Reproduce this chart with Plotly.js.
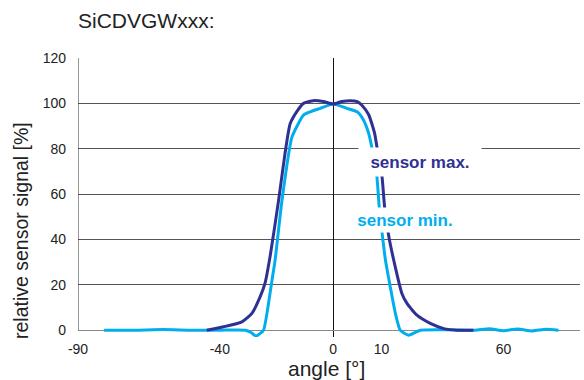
<!DOCTYPE html>
<html>
<head>
<meta charset="utf-8">
<script src="https://cdn.plot.ly/plotly-3.0.1.min.js"></script>
<style>html,body{margin:0;padding:0;background:#fff}#chart{width:584px;height:380px}</style>
</head>
<body>
<div id="chart"></div>
<script>
// sensor max. (dark blue)
const maxAngle = [-44.6, -38.7, -32.2, -28.7, -25.8, -24, -22.2, -19.3, -17, -15.2, -12.5, -10.5, -7, -3.5, 0, 3, 6, 8.5, 10.1, 12.5, 14.6, 16, 17.2, 18.1, 19.5, 21.3, 24.2, 26, 29.5, 34.2, 39, 43.7, 49.4];
const maxSignal = [0, 1.5, 3.7, 7.4, 14.7, 21, 33, 57, 78, 91, 97, 100, 101.2, 100.8, 99.7, 100.8, 101.2, 100.8, 99.2, 95, 86.7, 76, 67.6, 54.4, 42, 31, 16.2, 11.8, 6.6, 3, 0.7, 0, 0];
// sensor min. (light blue)
const minAngle = [-80.8, -70, -60, -50, -40, -31, -29, -27.2, -24.6, -23.2, -21.6, -20.5, -18.1, -14.6, -10.5, -8.1, -4.6, 0, 4.8, 8.4, 10.5, 12.5, 14, 15.4, 16.2, 17.2, 18.4, 20.1, 21.9, 23.6, 26.6, 30.7, 40, 50, 55, 60, 65, 70, 75, 79.4];
const minSignal = [0, 0, 0.3, 0, 0, 0, -1, -2.6, 0, 8.8, 22, 30.9, 57, 85, 94.8, 96.3, 97.8, 99.7, 97.8, 96.3, 93, 86.7, 78, 67.6, 54.4, 43, 30.9, 19.1, 7.4, 0, -2.2, 0, 0.2, 0, 0.6, -0.2, 0.5, -0.3, 0.4, 0];
// axis ticks
const xTickVals = [-90, -40, 0, 17, 60];
const xTickText = ['-90', '-40', '0', '10', '60'];
const yTickVals = [0, 20, 40, 60, 80, 100, 120];

const darkBlue = '#2e3192';
const lightBlue = '#00aeef';
const font = 'Liberation Sans, Arial, sans-serif';

const traces = [
  {x: minAngle, y: minSignal, mode: 'lines', line: {color: lightBlue, width: 3, shape: 'spline', smoothing: 0.5}, hoverinfo: 'skip'},
  {x: maxAngle, y: maxSignal, mode: 'lines', line: {color: darkBlue, width: 3, shape: 'spline', smoothing: 0.5}, hoverinfo: 'skip'}
];

const layout = {
  width: 584, height: 380,
  margin: {l: 78, r: 4, t: 58, b: 43},
  paper_bgcolor: '#fff', plot_bgcolor: '#fff',
  showlegend: false,
  font: {family: font, color: '#222', size: 14},
  title: {text: 'SiCDVGWxxx:', font: {family: font, size: 21, color: '#222'}, xref: 'paper', x: 0, xanchor: 'left', yref: 'container', y: 0.945, yanchor: 'middle'},
  xaxis: {
    range: [-90, 87], tickvals: xTickVals, ticktext: xTickText,
    showgrid: false, zeroline: true, zerolinecolor: '#111', zerolinewidth: 1,
    showline: false, ticks: '', tickfont: {size: 14, color: '#222'}, ticklabelstandoff: 2
  },
  yaxis: {
    range: [-3, 120], tickvals: yTickVals,
    showgrid: true, gridcolor: '#555', gridwidth: 1,
    zeroline: true, zerolinecolor: '#888', zerolinewidth: 1,
    showline: false, ticks: '', tickfont: {size: 14, color: '#222'}, ticklabelstandoff: 11
  },
  shapes: [
    {type: 'line', xref: 'x', yref: 'y', x0: -90, x1: -90, y0: 0, y1: 120, line: {color: '#333', width: 1}}
  ],
  annotations: [
    {text: 'relative sensor signal [%]', xref: 'paper', yref: 'paper', x: -0.1135, y: 0.38, xanchor: 'center', yanchor: 'middle', textangle: -90, showarrow: false, font: {size: 19.5, color: '#222'}},
    {text: 'angle [°]', xref: 'paper', yref: 'paper', x: 0.495, y: -0.113, xanchor: 'center', yanchor: 'middle', borderpad: 0, showarrow: false, font: {size: 21, color: '#222'}},
    {text: '<b>sensor max.</b>', x: 30.7, y: 74, xref: 'x', yref: 'y', showarrow: false, font: {size: 17, color: darkBlue}, bgcolor: '#fff', width: 120, height: 26},
    {text: '<b>sensor min.</b>', x: 25.4, y: 48.5, xref: 'x', yref: 'y', showarrow: false, font: {size: 17, color: lightBlue}, bgcolor: '#fff', width: 110, height: 22}
  ]
};

Plotly.newPlot('chart', traces, layout, {displayModeBar: false, staticPlot: true});
</script>
</body>
</html>
